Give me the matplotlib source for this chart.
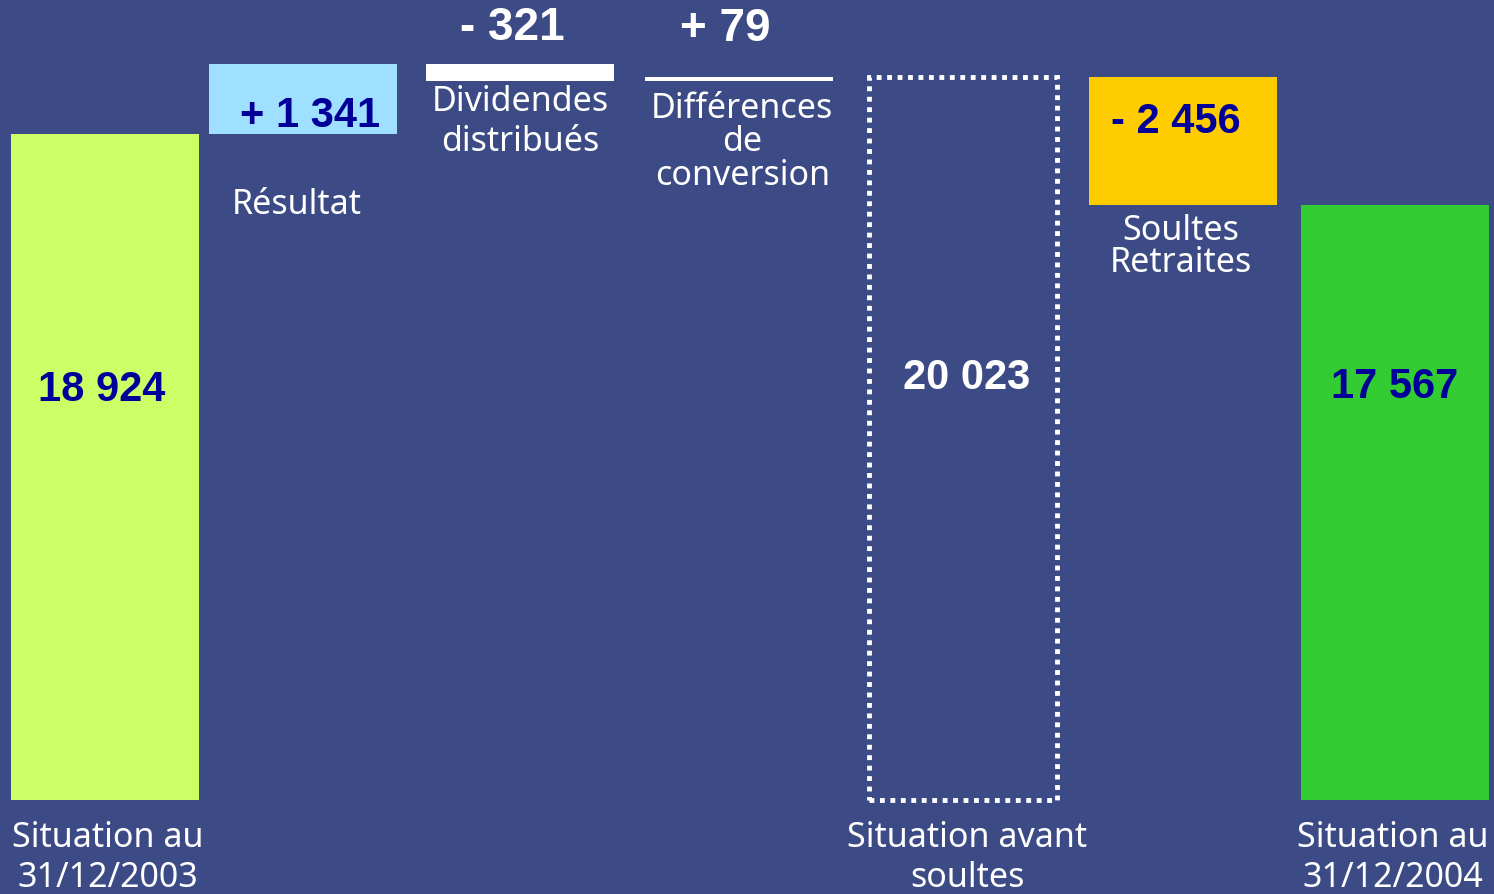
import matplotlib
matplotlib.use("Agg")
import matplotlib.pyplot as plt

# waterfall: situation 2003 -> 2004
categories = ["Situation au\n31/12/2003", "Résultat", "Dividendes\ndistribués",
              "Différences\nde\nconversion", "Situation avant\nsoultes",
              "Soultes\nRetraites", "Situation au\n31/12/2004"]
start = 18924
deltas = [1341, -321, 79]
soultes = -2456

subtotal = start + sum(deltas)    # 20023
final = subtotal + soultes        # 17567

# layout / style
bg = "#3C4B85"
navy = "#000099"
xpos = [0, 0.921, 1.930, 2.949, 3.991, 5.014, 6.0]
width = 0.874
base = 6160
label_y = [0.040, 0.771, 0.8635, 0.841, 0.040, 0.7237, 0.040]
label_ls = [1.25, 1.2, 1.25, 0.98, 1.25, 0.95, 1.25]
label_dx = [0.014, -0.03, 0, 0.015, 0.02, -0.01, -0.01]


def fmt(v, sign=False):
    s = "{:,}".format(abs(v)).replace(",", " ")
    if sign:
        s = ("+ " if v >= 0 else "- ") + s
    return s


fig = plt.figure(figsize=(14.94, 8.94), dpi=100, facecolor=bg)
ax = fig.add_axes([0, 0, 1, 1])
ax.set_xlim(-0.488, 6.460)
ax.set_ylim(4360, 21490)
ax.set_axis_off()

# opening total
ax.bar(xpos[0], start - base, bottom=base, width=width, color="#CCFF66")

# floating steps
running = start
step_colors = ["#9FDFFF", "white", "white"]
for i, (d, c) in enumerate(zip(deltas, step_colors)):
    ax.bar(xpos[i + 1], d, bottom=running, width=width, color=c)
    running += d

# subtotal, dotted outline
ax.bar(xpos[4], subtotal - base, bottom=base, width=width, fill=False,
       edgecolor="white", linewidth=3.5, linestyle=(0, (1, 1.15)))

# soultes
ax.bar(xpos[5], soultes, bottom=subtotal, width=width, color="#FFCC00")

# closing total
ax.bar(xpos[6], final - base, bottom=base, width=width, color="#33CC33")

# value labels
tr = ax.get_xaxis_transform()
value_txt = [fmt(start), fmt(deltas[0], True), fmt(deltas[1], True),
             fmt(deltas[2], True), fmt(subtotal), fmt(soultes, True), fmt(final)]
value_y = [0.5638, 0.8702, 0.9687, 0.9676, 0.5772, 0.8635, 0.5671]
value_dx = [-0.014, 0.032, -0.037, -0.065, 0.018, -0.033, 0]
value_col = [navy, navy, "white", "white", "white", navy, navy]
value_fs = [30, 30, 33, 33, 30, 30, 30]
for i, t in enumerate(value_txt):
    ax.text(xpos[i] + value_dx[i], value_y[i], t, transform=tr, ha="center",
            va="center", fontsize=value_fs[i], fontweight="bold",
            color=value_col[i], family="Liberation Sans")

# category labels
for i, t in enumerate(categories):
    ax.text(xpos[i] + label_dx[i], label_y[i], t, transform=tr, ha="center",
            va="center", fontsize=24.5, color="white", family="Noto Sans",
            linespacing=label_ls[i], clip_on=False)

fig.savefig("out.png", dpi=100, facecolor=bg)
